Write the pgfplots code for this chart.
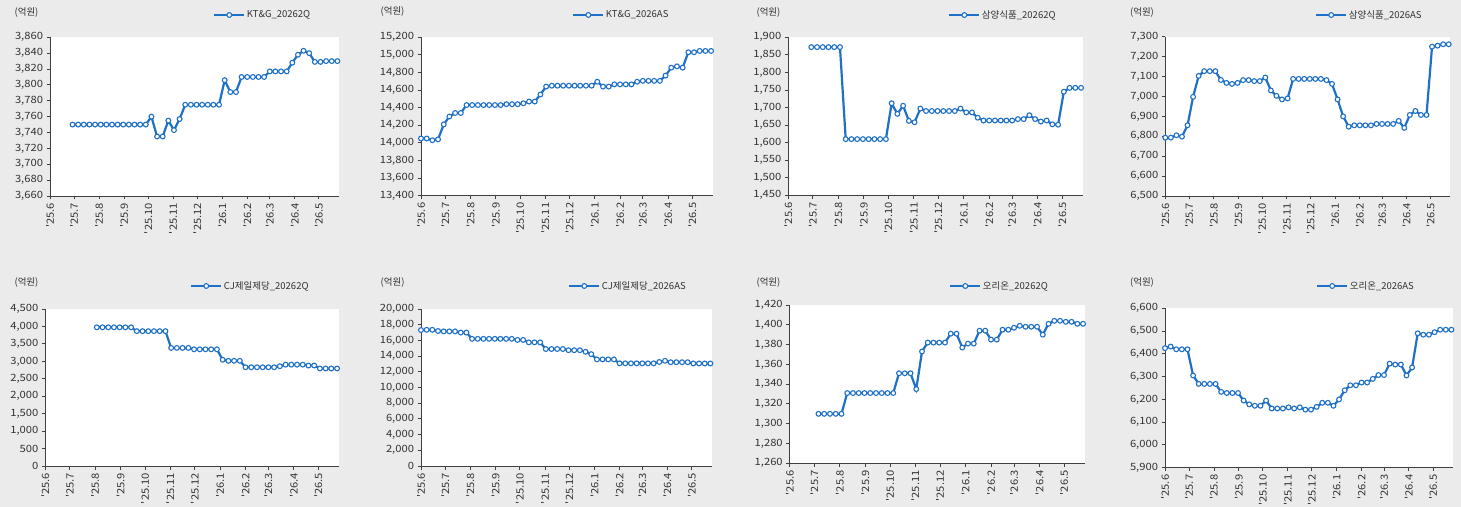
\documentclass[border=0pt]{standalone}
\usepackage{fontspec}
\usepackage{pgfplots}
\usepackage{pgfplotstable}
\pgfplotsset{compat=1.18}
\newfontfamily\kfont{Noto Sans CJK KR}
\newfontfamily\kfontw{Noto Sans CJK KR}[FakeStretch=1.12]
\definecolor{bgc}{HTML}{EBEBEB}
\definecolor{axc}{HTML}{404040}
\definecolor{txt}{HTML}{333333}
\definecolor{ln}{HTML}{1F71C8}
\newcommand\tickfont{\kfontw\fontsize{10bp}{12bp}\selectfont}
\newcommand\labfont{\kfont\fontsize{9.5bp}{11bp}\selectfont}

\pgfplotstableread{
d v
28 3750
35 3750
42 3750
49 3750
56 3750
63 3750
70 3750
77 3750
84 3750
91 3750
98 3750
105 3750
112 3750
119 3750
126 3760
133 3735
140 3735
147 3755
154 3743
161 3757
168 3775
175 3775
182 3775
189 3775
196 3775
203 3775
210 3775
217 3806
224 3791
231 3791
238 3810
245 3810
252 3810
259 3810
266 3810
273 3817
280 3817
287 3817
294 3817
301 3828
308 3838
315 3843
322 3840
329 3829
336 3829
343 3830
350 3830
357 3830
}\tA

\pgfplotstableread{
d v
0 14050
7 14050
14 14030
21 14040
28 14210
35 14300
42 14340
49 14340
56 14430
63 14430
70 14430
77 14430
84 14430
91 14430
98 14430
105 14440
112 14440
119 14440
126 14450
133 14470
140 14470
147 14550
154 14640
161 14650
168 14650
175 14650
182 14650
189 14650
196 14650
203 14650
210 14650
217 14695
224 14640
231 14640
238 14665
245 14665
252 14665
259 14665
266 14695
273 14705
280 14705
287 14705
294 14705
301 14765
308 14855
315 14870
322 14855
329 15030
336 15030
343 15045
350 15045
357 15045
}\tB

\pgfplotstableread{
d v
28 1872
35 1872
42 1872
49 1872
56 1872
63 1872
70 1610
77 1610
84 1610
91 1610
98 1610
105 1610
112 1610
119 1610
126 1712
133 1682
140 1705
147 1662
154 1658
161 1697
168 1690
175 1690
182 1690
189 1690
196 1690
203 1690
210 1697
217 1686
224 1686
231 1671
238 1663
245 1663
252 1663
259 1663
266 1663
273 1663
280 1667
287 1667
294 1678
301 1667
308 1660
315 1663
322 1652
329 1651
336 1745
343 1756
350 1756
357 1756
}\tC

\pgfplotstableread{
d v
0 6793
7 6793
14 6805
21 6798
28 6855
35 6998
42 7103
49 7127
56 7127
63 7127
70 7083
77 7068
84 7063
91 7068
98 7082
105 7082
112 7077
119 7077
126 7095
133 7030
140 7003
147 6985
154 6990
161 7088
168 7088
175 7088
182 7088
189 7088
196 7088
203 7082
210 7063
217 6985
224 6900
231 6848
238 6855
245 6855
252 6855
259 6855
266 6862
273 6862
280 6862
287 6862
294 6877
301 6842
308 6907
315 6927
322 6907
329 6907
336 7250
343 7255
350 7262
357 7262
}\tD

\pgfplotstableread{
d v
63 3975
70 3975
77 3975
84 3975
91 3975
98 3975
105 3975
112 3865
119 3865
126 3865
133 3865
140 3865
147 3865
154 3385
161 3385
168 3385
175 3385
182 3345
189 3345
196 3345
203 3345
210 3345
217 3045
224 3015
231 3015
238 3015
245 2830
252 2830
259 2830
266 2830
273 2830
280 2830
287 2860
294 2905
301 2905
308 2905
315 2905
322 2880
329 2880
336 2795
343 2795
350 2795
357 2795
}\tE

\pgfplotstableread{
d v
0 17320
7 17350
14 17350
21 17200
28 17150
35 17150
42 17150
49 17000
56 17000
63 16200
70 16200
77 16200
84 16200
91 16200
98 16200
105 16200
112 16200
119 16060
126 16060
133 15750
140 15750
147 15750
154 14900
161 14900
168 14900
175 14900
182 14750
189 14750
196 14750
203 14550
210 14250
217 13580
224 13580
231 13580
238 13580
245 13080
252 13080
259 13080
266 13080
273 13080
280 13080
287 13080
294 13250
301 13400
308 13220
315 13220
322 13220
329 13220
336 13060
343 13060
350 13060
357 13060
}\tF

\pgfplotstableread{
d v
35 1310
42 1310
49 1310
56 1310
63 1310
70 1331
77 1331
84 1331
91 1331
98 1331
105 1331
112 1331
119 1331
126 1331
133 1351
140 1351
147 1351
154 1335
161 1373
168 1382
175 1382
182 1382
189 1382
196 1391
203 1391
210 1377
217 1381
224 1381
231 1394
238 1394
245 1385
252 1385
259 1395
266 1395
273 1397
280 1399
287 1398
294 1398
301 1398
308 1390
315 1401
322 1404
329 1404
336 1403
343 1403
350 1401
357 1401
}\tG

\pgfplotstableread{
d v
0 6425
7 6432
14 6420
21 6420
28 6420
35 6305
42 6268
49 6268
56 6268
63 6268
70 6233
77 6228
84 6228
91 6228
98 6195
105 6178
112 6172
119 6172
126 6195
133 6160
140 6160
147 6160
154 6165
161 6160
168 6165
175 6155
182 6155
189 6167
196 6185
203 6185
210 6172
217 6200
224 6240
231 6262
238 6262
245 6274
252 6274
259 6290
266 6307
273 6307
280 6357
287 6353
294 6353
301 6305
308 6340
315 6490
322 6484
329 6484
336 6495
343 6506
350 6506
357 6506
}\tH

\pgfplotsset{
  panel/.style={
    scale only axis,
    axis background/.style={fill=white},
    clip=false,
    xmin=0, xmax=359,
    xtick={0,30,61,92,122,153,183,214,245,273,304,334},
    xticklabels={'25.6,'25.7,'25.8,'25.9,'25.10,'25.11,'25.12,'26.1,'26.2,'26.3,'26.4,'26.5},
    xticklabel style={rotate=90, anchor=east, font=\tickfont, text=txt},
    yticklabel style={font=\tickfont, text=txt},
    /pgf/number format/.cd, fixed, 1000 sep={,}, assume math mode=true, /pgfplots/.cd,
    scaled y ticks=false,
    axis x line*=bottom, axis y line*=left,
    axis line style={draw=axc, line width=0.9bp, -},
    tick style={draw=axc, line width=0.9bp},
    tick align=outside, major tick length=3.5bp,
    xtick pos=bottom, ytick pos=left,
    ylabel={(억원)},
    ylabel style={font=\labfont, text=txt, rotate=-90, anchor=center},
    legend style={draw=none, fill=none, inner sep=0pt, anchor=west,
      font=\labfont, text=txt, nodes={inner sep=1.5bp}},
    legend image code/.code={\draw[mark repeat=2,mark phase=2,##1] plot coordinates {(0bp,0bp)(15bp,0bp)(30bp,0bp)};},
  },
  ser/.style={color=ln, line width=2.2bp, mark=*, mark size=2.4bp,
    mark options={fill=white, draw=ln, line width=1.1bp}},
}

\begin{document}
\begin{tikzpicture}
\path[fill=bgc, use as bounding box] (0,0) rectangle (1461bp,507bp);

% Row 1
\begin{axis}[panel, at={(50bp,311bp)}, anchor=south west, width=289bp, height=158.7bp,
  ymin=3660, ymax=3860, ytick={3660,3680,...,3860},
  ylabel style={at={(axis description cs:-0.0813,1.159)}},
  legend style={at={(axis description cs:0.564,1.1405)}}]
\addplot[ser] table[x=d,y=v] {\tA};
\addlegendentry{KT\&G\_20262Q}
\end{axis}

\begin{axis}[panel, at={(421bp,311.3bp)}, anchor=south west, width=291.7bp, height=158.4bp,
  ymin=13400, ymax=15200, ytick={13400,13600,...,15200},
  ylabel style={at={(axis description cs:-0.0977,1.160)}},
  legend style={at={(axis description cs:0.5177,1.141)}}]
\addplot[ser] table[x=d,y=v] {\tB};
\addlegendentry{KT\&G\_2026AS}
\end{axis}

\begin{axis}[panel, at={(788.3bp,311.7bp)}, anchor=south west, width=294.4bp, height=158bp,
  ymin=1450, ymax=1900, ytick={1450,1500,...,1900},
  ylabel style={at={(axis description cs:-0.0673,1.160)}},
  legend style={at={(axis description cs:0.5425,1.141)}}]
\addplot[ser] table[x=d,y=v] {\tC};
\addlegendentry{삼양식품\_20262Q}
\end{axis}

\begin{axis}[panel, at={(1165.3bp,311bp)}, anchor=south west, width=285bp, height=159.3bp,
  ymin=6500, ymax=7300, ytick={6500,6600,...,7300},
  ylabel style={at={(axis description cs:-0.0818,1.155)}},
  legend style={at={(axis description cs:0.525,1.136)}}]
\addplot[ser] table[x=d,y=v] {\tD};
\addlegendentry{삼양식품\_2026AS}
\end{axis}

% Row 2
\begin{axis}[panel, at={(45.3bp,41bp)}, anchor=south west, width=293.4bp, height=157bp,
  ymin=0, ymax=4500, ytick={0,500,...,4500},
  ylabel style={at={(axis description cs:-0.0641,1.166)}},
  legend style={at={(axis description cs:0.493,1.1465)}}]
\addplot[ser] table[x=d,y=v] {\tE};
\addlegendentry{CJ제일제당\_20262Q}
\end{axis}

\begin{axis}[panel, at={(421bp,41bp)}, anchor=south west, width=291bp, height=157bp,
  ymin=0, ymax=20000, ytick={0,2000,...,20000},
  ylabel style={at={(axis description cs:-0.0979,1.166)}},
  legend style={at={(axis description cs:0.505,1.1465)}}]
\addplot[ser] table[x=d,y=v] {\tF};
\addlegendentry{CJ제일제당\_2026AS}
\end{axis}

\begin{axis}[panel, at={(789.7bp,43.7bp)}, anchor=south west, width=295bp, height=158.3bp,
  ymin=1260, ymax=1420, ytick={1260,1280,...,1420},
  ylabel style={at={(axis description cs:-0.0719,1.139)}},
  legend style={at={(axis description cs:0.540,1.120)}}]
\addplot[ser] table[x=d,y=v] {\tG};
\addlegendentry{오리온\_20262Q}
\end{axis}

\begin{axis}[panel, at={(1165bp,39.3bp)}, anchor=south west, width=288bp, height=159.4bp,
  ymin=5900, ymax=6600, ytick={5900,6000,...,6600},
  ylabel style={at={(axis description cs:-0.0799,1.159)}},
  legend style={at={(axis description cs:0.524,1.140)}}]
\addplot[ser] table[x=d,y=v] {\tH};
\addlegendentry{오리온\_2026AS}
\end{axis}
\end{tikzpicture}
\end{document}
